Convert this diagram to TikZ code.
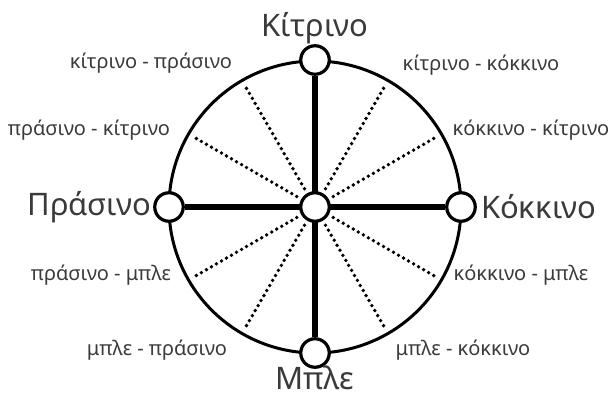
\documentclass[tikz,border=0pt]{standalone}
\usepackage{fontspec}
\setmainfont{Noto Sans}
\usetikzlibrary{positioning}
\definecolor{textgray}{HTML}{3A3A3A}

\begin{document}
\begin{tikzpicture}[
	x=1pt, y=-1pt,
	hub/.style={circle, draw=black, line width=3.2pt, fill=white, minimum size=28.5pt, inner sep=0pt},
	axis line/.style={line width=6.5pt, black},
	mix line/.style={line width=3.8pt, black, line cap=round, dash pattern=on 0pt off 5.8pt},
	main label/.style={font=\fontsize{31}{33}\selectfont, text=textgray, inner sep=1pt},
	mix label/.style={font=\fontsize{20}{22}\selectfont, text=textgray, inner sep=0pt},
	]
	\useasboundingbox (0,0) rectangle (616,401);
	
	% outer wheel
	\coordinate (ctr) at (315,207);
	\draw[line width=3pt] (ctr) circle[radius=146];
	
	% dotted mixing spokes
	\begin{scope}[shift={(315,207)}, y=1pt]
		\draw[mix line] (30:21) -- (30:141);
		\draw[mix line] (60:21) -- (60:141);
		\draw[mix line] (120:21) -- (120:141);
		\draw[mix line] (150:21) -- (150:141);
		\draw[mix line] (210:21) -- (210:141);
		\draw[mix line] (240:21) -- (240:141);
		\draw[mix line] (300:21) -- (300:141);
		\draw[mix line] (330:21) -- (330:141);
	\end{scope}
	
	% hubs on the wheel
	\node[hub] (top) at (315,60) {};
	\node[hub] (bottom) at (315,353) {};
	\node[hub] (left) at (169,207) {};
	\node[hub] (right) at (461,207) {};
	
	% thick axes
	\draw[axis line] (top) -- (bottom);
	\draw[axis line] (left) -- (right);
	\node[hub] (centre) at (ctr) {};
	
	% primary colours
	\node[main label, above=-1pt of top] (yellow) {Κίτρινο};
	\node[main label, left=1pt of left] (green) {Πράσινο};
	\node[main label, right=3pt of right] (red) {Κόκκινο};
	\node[main label, below=-4pt of bottom] (blue) {Μπλε};
	
	% mixed colours
	\node[mix label] (yg) at (151,63) {κίτρινο - πράσινο};
	\node[mix label] (gy) at (89,130) {πράσινο - κίτρινο};
	\node[mix label] (yr) at (481,65) {κίτρινο - κόκκινο};
	\node[mix label] (ry) at (531,130) {κόκκινο - κίτρινο};
	\node[mix label] (gb) at (101,275) {πράσινο - μπλε};
	\node[mix label] (bg) at (157,350) {μπλε - πράσινο};
	\node[mix label] (rb) at (521,275) {κόκκινο - μπλε};
	\node[mix label] (br) at (463,350) {μπλε - κόκκινο};
	
\end{tikzpicture}
\end{document}
